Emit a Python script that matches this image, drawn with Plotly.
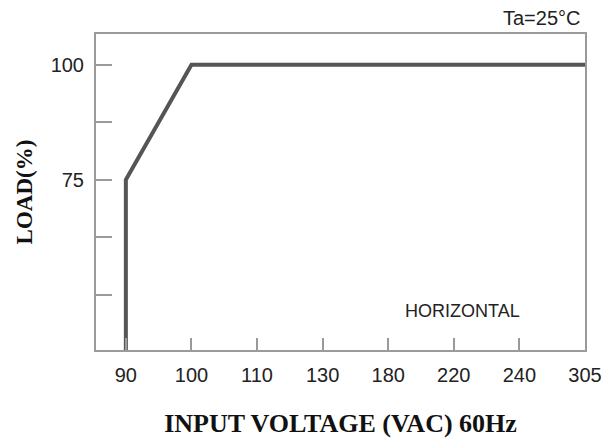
import plotly.graph_objects as go

# data
voltage_ticks = ["90", "100", "110", "130", "180", "220", "240", "305"]
curve_x = ["90", "90", "100", "305"]
curve_load = [0, 75, 100, 100]
load_tickvals = [100, 87.5, 75, 62.5, 50]
load_ticktext = ["100", "", "75", "", ""]

fig = go.Figure()
fig.add_trace(go.Scatter(
    x=curve_x, y=curve_load, mode="lines",
    line=dict(color="#555555", width=4),
    showlegend=False, hoverinfo="skip",
))

axis_line = dict(showline=True, linecolor="#9a9a9a", linewidth=2, mirror=True,
                 showgrid=False, zeroline=False, ticks="inside",
                 tickcolor="#9a9a9a", tickwidth=2)

fig.update_xaxes(
    type="category", categoryorder="array", categoryarray=voltage_ticks,
    tickvals=voltage_ticks, ticktext=voltage_ticks,
    range=[-0.455, 7], ticklen=12,
    tickfont=dict(family="Liberation Sans, Arial", size=20, color="#222"),
    ticklabelstandoff=6,
    title=dict(text="INPUT VOLTAGE (VAC) 60Hz",
               font=dict(family="Liberation Serif, Times New Roman", size=26, color="#111", weight="bold"),
               standoff=29),
    **axis_line,
)
fig.update_yaxes(
    range=[38, 106.7], tickvals=load_tickvals, ticktext=load_ticktext, ticklen=16,
    tickfont=dict(family="Liberation Sans, Arial", size=20, color="#222"),
    ticklabelstandoff=6,
    title=dict(text="LOAD(%)",
               font=dict(family="Liberation Serif, Times New Roman", size=23, color="#111", weight="bold"),
               standoff=12),
    **axis_line,
)

fig.add_annotation(text="Ta=25°C", xref="paper", yref="paper", x=1.0, y=1.05,
                   xanchor="right", yanchor="middle", xshift=-2, showarrow=False,
                   font=dict(family="Liberation Sans, Arial", size=20, color="#222"))
fig.add_annotation(text="HORIZONTAL", xref="paper", yref="paper", x=0.75, y=0.125,
                   xanchor="center", yanchor="middle", showarrow=False,
                   font=dict(family="Liberation Sans, Arial", size=18, color="#222"))

fig.update_layout(
    width=614, height=445,
    margin=dict(l=96, r=27, t=34, b=91),
    paper_bgcolor="white", plot_bgcolor="white",
)

fig.write_html("out.html", config={"displayModeBar": False},
               post_script="document.body.style.margin='0';document.body.style.padding='0';")
